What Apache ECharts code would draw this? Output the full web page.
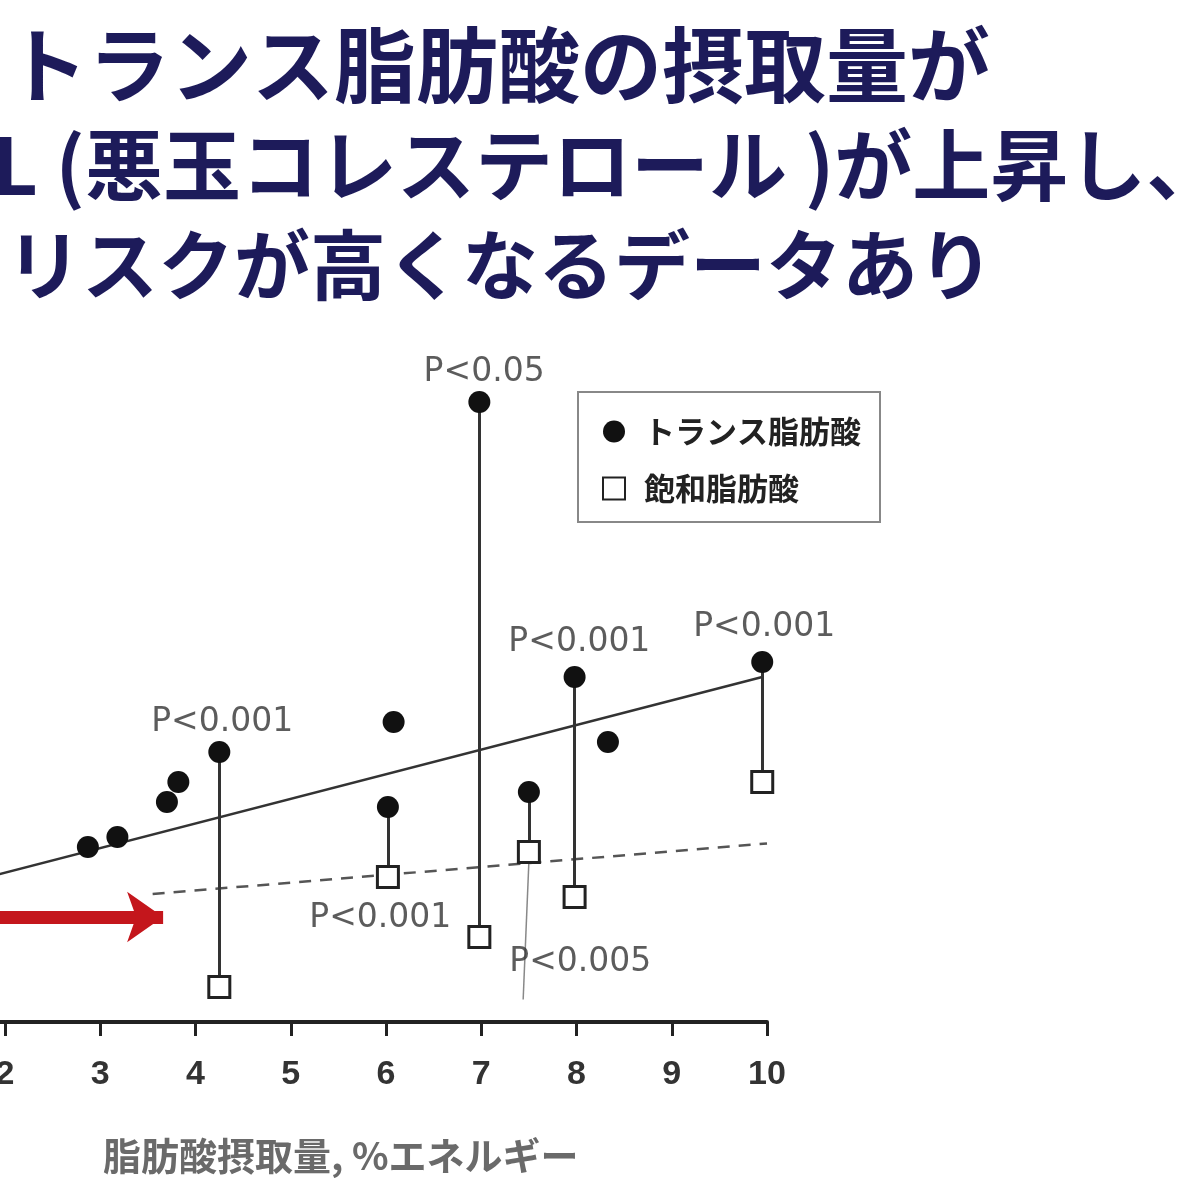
<!DOCTYPE html>
<html>
<head>
<meta charset="utf-8">
<script src="https://cdn.jsdelivr.net/npm/echarts@6/dist/echarts.min.js"></script>
<style>
  html, body { margin: 0; padding: 0; background: #fff; }
  #chart { width: 1200px; height: 1200px; }
</style>
</head>
<body>
<div id="chart"></div>
<script>
// タイトル（左側は元画像で切れている）
const titleLines = ['トランス脂肪酸の摂取量が', 'LDL (悪玉コレステロール )が上昇し、', 'リスクが高くなるデータあり'];

// トランス脂肪酸 (●)
const transX = [2.87, 3.18, 3.7, 3.82, 4.25, 6.08, 6.02, 6.98, 7.5, 7.98, 8.33, 9.95];
const transY = [0.15, 0.17, 0.24, 0.28, 0.34, 0.40, 0.23, 1.04, 0.26, 0.49, 0.36, 0.52];

// 飽和脂肪酸 (□)
const satX = [4.25, 6.02, 6.98, 7.5, 7.98, 9.95];
const satY = [-0.13, 0.09, -0.03, 0.14, 0.05, 0.28];

// ● と □ を結ぶ線 (transのindex, satのindex)
const pairs = [[4, 0], [6, 1], [7, 2], [8, 3], [9, 4], [11, 5]];

// 回帰直線
const transFit = [[0, 0], [9.95, 0.49]];
const satFit = [[3.55, 0.056], [10, 0.157]];

// P値ラベル
const pText = ['P<0.05', 'P<0.001', 'P<0.001', 'P<0.001', 'P<0.001', 'P<0.005'];
const pX = [7.03, 4.28, 8.03, 9.97, 5.94, 8.04];
const pY = [1.10, 0.40, 0.56, 0.59, 0.008, -0.08];

// P<0.005 の引き出し線
const leader = [[7.5, 0.12], [7.44, -0.155]];

// 赤い矢印
const arrow = [[1.4, 0.01], [3.66, 0.01]];

const xTicks = [0, 10, 1]; // min, max, interval

let myChart = echarts.init(document.getElementById('chart'));

let pairLines = pairs.map(function (p) {
    return [
        { coord: [transX[p[0]], transY[p[0]]] },
        { coord: [satX[p[1]], satY[p[1]]] }
    ];
});
pairLines.push([
    { coord: leader[0], lineStyle: { width: 1.5, color: '#888' } },
    { coord: leader[1] }
]);

const titleFont = [82, 78, 76];
const titleX = [6, -108, 6];

myChart.setOption({
    animation: false,
    backgroundColor: '#fff',
    graphic: titleLines.map(function (t, i) {
        return {
            type: 'text',
            x: titleX[i],
            y: 65 + i * 100,
            style: {
                text: t,
                fill: '#1d1b5a',
                font: 'bold ' + titleFont[i] + 'px "Noto Sans CJK JP"',
                verticalAlign: 'middle'
            }
        };
    }),
    title: {
        text: '脂肪酸摂取量, %エネルギー',
        left: 98,
        top: 1132,
        textStyle: {
            fontSize: 38,
            fontWeight: 'bold',
            color: '#6a6a6a',
            fontFamily: 'Noto Sans CJK JP'
        }
    },
    legend: {
        data: ['トランス脂肪酸', '飽和脂肪酸'],
        left: 578,
        top: 392,
        orient: 'vertical',
        borderColor: '#888',
        borderWidth: 2,
        padding: [24, 19, 18, 24],
        itemGap: 26,
        itemWidth: 22,
        itemHeight: 22,
        textStyle: {
            fontSize: 31,
            lineHeight: 31,
            fontWeight: 'bold',
            color: '#222',
            fontFamily: 'Noto Sans CJK JP',
            padding: [0, 0, 0, 14]
        }
    },
    grid: {
        left: -185.5,
        width: 952.5,
        top: 322,
        bottom: 178,
        outerBoundsMode: 'none',
        containLabel: false
    },
    xAxis: {
        type: 'value',
        min: xTicks[0],
        max: xTicks[1],
        interval: xTicks[2],
        splitLine: { show: false },
        axisLine: { onZero: false, lineStyle: { color: '#222', width: 4 } },
        axisTick: { length: 14, lineStyle: { color: '#222', width: 3 } },
        axisLabel: {
            margin: 36,
            fontSize: 34,
            color: '#333',
            fontWeight: 'bold',
            fontFamily: 'Liberation Sans'
        }
    },
    yAxis: {
        type: 'value',
        min: -0.2,
        max: 1.2,
        show: false
    },
    series: [
        { // トランス 回帰直線
            type: 'line',
            data: transFit,
            symbol: 'none',
            lineStyle: { color: '#333', width: 2.5 },
            z: 2
        },
        { // 飽和 回帰直線（破線）
            type: 'line',
            data: satFit,
            symbol: 'none',
            lineStyle: { color: '#555', width: 2.5, type: [12, 9] },
            z: 2
        },
        { // 縦の結線と赤い矢印
            type: 'line',
            data: [],
            markLine: {
                silent: true,
                symbol: 'none',
                label: { show: false },
                lineStyle: { color: '#333', width: 3, type: 'solid' },
                data: pairLines.concat([[
                    { coord: arrow[0], symbol: 'none', lineStyle: { color: '#c4161c', width: 13 } },
                    { coord: arrow[1], symbol: 'arrow', symbolSize: [38, 36] }
                ]])
            },
            z: 3
        },
        {
            name: 'トランス脂肪酸',
            type: 'scatter',
            data: transX.map(function (x, i) { return [x, transY[i]]; }),
            symbol: 'circle',
            symbolSize: 22,
            itemStyle: { color: '#111', opacity: 1 },
            z: 10
        },
        {
            name: '飽和脂肪酸',
            type: 'scatter',
            data: satX.map(function (x, i) { return [x, satY[i]]; }),
            symbol: 'rect',
            symbolSize: 21,
            itemStyle: { color: '#fff', borderColor: '#222', borderWidth: 3, opacity: 1 },
            z: 10
        },
        { // P値ラベル
            type: 'scatter',
            data: pX.map(function (x, i) { return { value: [x, pY[i]], name: pText[i] }; }),
            symbolSize: 0,
            silent: true,
            label: {
                show: true,
                position: 'inside',
                formatter: '{b}',
                fontSize: 33,
                color: '#333',
                fontFamily: 'DejaVu Sans'
            },
            z: 11
        }
    ]
});
</script>
</body>
</html>
